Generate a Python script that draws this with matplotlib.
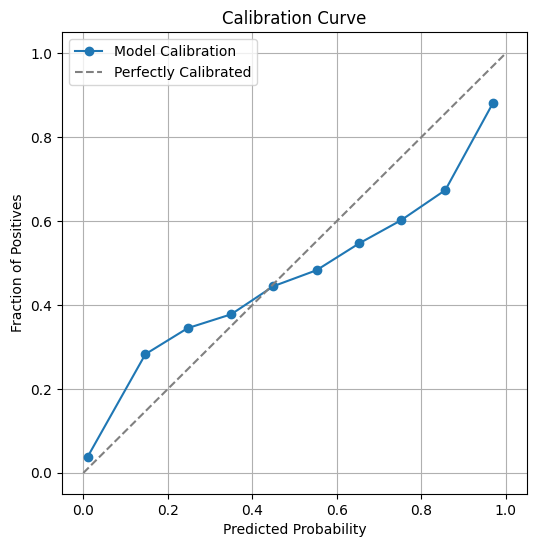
import matplotlib
matplotlib.use("Agg")
import matplotlib.pyplot as plt

pred = [0.01, 0.147, 0.247, 0.35, 0.45, 0.552, 0.653, 0.752, 0.857, 0.97]
frac = [0.038, 0.283, 0.345, 0.378, 0.445, 0.483, 0.547, 0.602, 0.674, 0.882]

fig = plt.figure(figsize=(5.36, 5.47), dpi=100)
ax = fig.add_axes([0.116, 0.097, 0.867, 0.844])
ax.plot(pred, frac, marker='o', label='Model Calibration')
ax.plot([0, 1], [0, 1], linestyle='--', color='gray', label='Perfectly Calibrated')
ax.set_xlabel('Predicted Probability')
ax.set_ylabel('Fraction of Positives')
ax.set_title('Calibration Curve')
ax.legend(loc='upper left')
ax.grid(True)
fig.savefig('out.png', dpi=100)
